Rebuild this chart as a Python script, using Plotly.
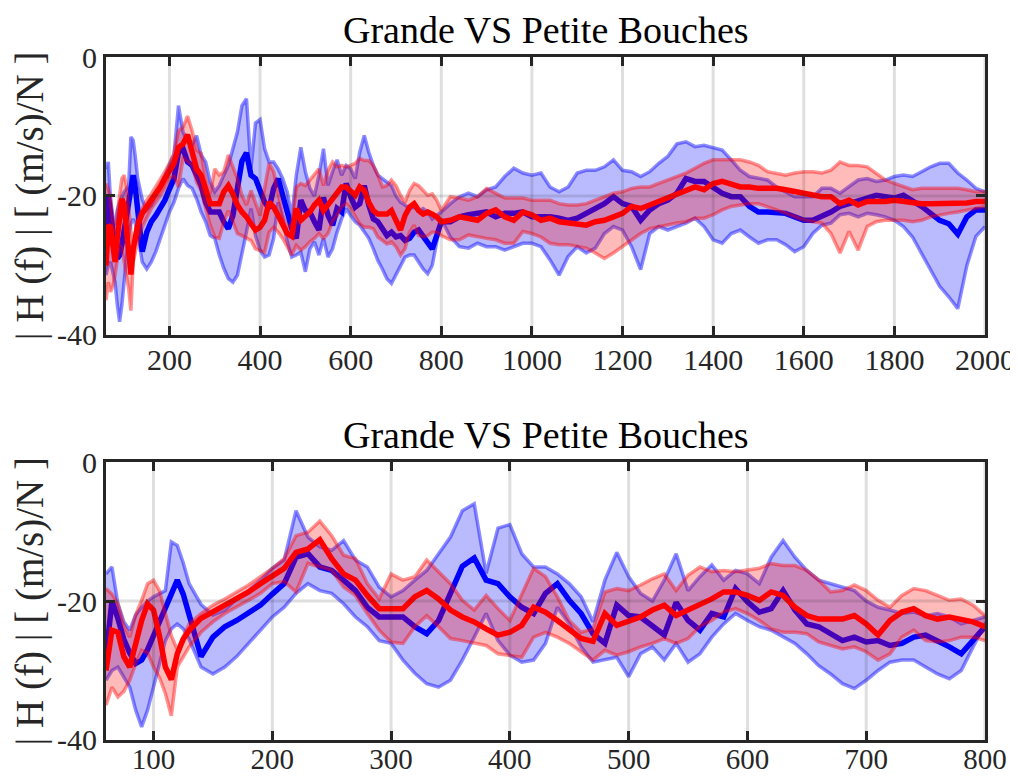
import plotly.graph_objects as go
from plotly.subplots import make_subplots

# frequency axis (Hz)
freq = ([60, 65, 70, 75, 80, 85, 90, 95, 100, 105, 110, 115, 120, 125, 130]
        + list(range(140, 801, 10)) + list(range(820, 2001, 20)))

# "Grande" bouche (blue): mean, upper and lower envelope, dB
grande_moy = [-28.1, -20.0, -22.5, -25.5, -27.5, -29.0, -28.5, -27.0, -25.0, -22.8, -21.0, -19.0, -17.0, -19.0, -21.8,
              -28.0, -25.2, -23.7, -22.8, -21.8, -20.6, -19.0, -17.5, -13.7, -13.2, -15.1, -15.6, -17.0, -18.5, -20.9, -22.3,
              -22.3, -22.3, -23.7, -24.7, -22.8, -18.9, -15.0, -13.8, -17.0, -17.5, -19.4, -20.9, -21.8, -18.9, -17.5, -19.9,
              -21.8, -24.7, -26.1, -20.6, -22.1, -22.3, -23.7, -24.9, -20.2, -22.8, -24.2, -21.8, -22.3, -18.2, -20.1, -21.6,
              -21.1, -18.5, -21.3, -23.3, -23.7, -24.7, -25.7, -25.2, -25.9, -25.7, -26.4, -26.1, -25.2, -24.9, -25.7, -26.6,
              -27.6, -25.7, -23.7,
              -23.7, -23.0, -22.7, -22.5, -22.3, -23.0, -22.5, -22.5, -22.3, -23.0, -23.0, -23.0, -23.2, -23.5, -23.2, -22.5,
              -22.0, -21.1, -20.1, -21.1, -21.5, -23.5, -22.0, -21.1, -20.6, -19.6, -17.5, -17.9, -17.9, -18.7, -19.6, -20.1,
              -20.1, -21.5, -22.3, -22.3, -22.5, -22.5, -23.0, -23.5, -23.5, -23.0, -22.3, -21.5, -21.1, -20.8, -20.3, -19.9,
              -20.1, -20.3, -19.9, -20.6, -21.5, -22.5, -23.5, -24.0, -25.5, -23.0, -22.0, -22.0]
grande_max = [-16.1, -15.1, -20.4, -23.0, -24.2, -22.0, -20.9, -20.0, -19.4, -19.0, -18.5, -11.5, -12.0, -14.5, -17.5,
              -20.5, -22.0, -21.3, -19.7, -18.5, -17.0, -15.3, -14.1, -7.0, -10.8, -12.2, -12.7, -11.3, -14.1, -15.1, -18.0,
              -19.4, -18.5, -17.0, -15.6, -13.2, -10.8, -7.0, -6.0, -16.0, -9.5, -9.0, -13.2, -15.1, -15.1, -16.1, -17.5,
              -19.4, -23.0, -17.0, -13.0, -16.5, -18.9, -20.0, -17.0, -13.2, -18.5, -16.5, -14.8, -17.0, -15.6, -16.1, -17.5,
              -13.7, -11.3, -13.7, -15.6, -17.0, -17.5, -18.0, -18.5, -20.0, -20.9, -21.3, -21.8, -21.6, -22.1, -21.8, -22.3,
              -23.3, -22.8, -22.3,
              -21.1, -20.1, -19.6, -20.1, -19.1, -18.7, -17.2, -16.0, -16.7, -17.0, -16.7, -18.7, -19.4, -18.7, -16.7, -16.3,
              -16.3, -15.8, -14.8, -16.3, -16.5, -17.2, -16.5, -15.3, -14.3, -12.5, -12.2, -12.9, -12.7, -13.1, -13.4, -14.8,
              -16.3, -17.2, -17.5, -17.7, -18.7, -19.4, -20.1, -20.1, -20.1, -18.9, -18.9, -19.6, -18.7, -17.7, -17.5, -17.9,
              -17.7, -17.2, -17.0, -17.2, -16.5, -15.8, -15.3, -15.3, -16.7, -17.7, -18.9, -19.4]
grande_min = [-31.4, -30.0, -29.5, -31.0, -32.4, -35.7, -38.1, -35.7, -32.4, -29.0, -25.7, -24.0, -23.3, -24.0, -25.5,
              -29.5, -30.5, -29.5, -28.0, -26.1, -24.2, -22.3, -20.9, -18.9, -17.5, -18.5, -18.9, -20.4, -22.3, -23.7, -25.7,
              -26.1, -28.5, -30.4, -31.9, -32.4, -31.4, -28.5, -25.2, -21.8, -25.7, -27.8, -28.8, -28.5, -26.1, -20.9, -23.3,
              -26.6, -28.8, -28.5, -28.1, -30.9, -27.6, -26.6, -28.5, -26.1, -28.8, -27.6, -25.2, -23.3, -21.8, -22.8, -23.7,
              -24.2, -25.2, -26.1, -27.6, -29.3, -30.5, -31.9, -32.6, -31.4, -30.0, -28.8, -28.5, -28.5, -29.5, -30.5, -31.2,
              -30.0, -26.6, -23.3,
              -25.9, -27.3, -27.5, -26.8, -27.3, -27.3, -27.8, -27.3, -26.8, -26.8, -27.3, -29.2, -31.4, -28.7, -27.3, -28.2,
              -27.5, -25.4, -24.4, -24.9, -27.3, -30.6, -25.4, -24.4, -24.9, -24.4, -23.9, -23.2, -24.4, -26.3, -26.8, -25.4,
              -24.9, -25.9, -26.8, -26.3, -26.3, -27.0, -28.0, -27.3, -25.4, -24.2, -23.9, -22.7, -22.5, -23.0, -22.5, -22.7,
              -23.0, -23.5, -24.4, -25.9, -28.2, -30.6, -33.0, -34.5, -36.2, -30.0, -25.8, -24.4]

# "Petite" bouche (red): mean, upper and lower envelope, dB
petite_moy = [-30.0, -24.2, -24.5, -28.0, -29.5, -26.0, -22.8, -20.4, -21.3, -25.0, -29.5, -31.3, -27.6, -25.5, -24.2,
              -22.5, -21.6, -20.6, -19.7, -18.7, -17.5, -16.3, -15.3, -13.0, -12.5, -11.2, -13.9, -16.1, -17.0, -19.2, -21.1,
              -21.1, -21.1, -19.4, -18.5, -19.7, -21.3, -22.3, -23.0, -24.0, -24.9, -24.5, -23.5, -20.9, -21.6, -22.8, -24.0,
              -25.4, -25.8, -21.8, -23.5, -23.0, -22.3, -21.3, -20.6, -22.1, -21.3, -20.6, -19.7, -18.7, -18.7, -19.2, -19.9,
              -18.7, -19.2, -20.9, -22.1, -22.6, -22.6, -22.6, -22.1, -23.3, -24.9, -22.8, -21.6, -21.1, -22.1, -22.6, -22.3,
              -22.6, -23.0, -23.7,
              -23.5, -23.0, -23.2, -23.5, -22.5, -22.0, -23.0, -23.5, -22.3, -22.7, -23.5, -23.2, -23.7, -23.9, -24.2, -24.2,
              -23.7, -23.5, -23.0, -22.5, -21.5, -21.8, -21.3, -20.8, -20.3, -19.9, -19.4, -18.7, -19.1, -18.2, -17.9, -18.2,
              -18.7, -18.7, -18.9, -18.9, -18.9, -19.1, -19.4, -19.6, -19.9, -20.1, -20.1, -21.1, -20.6, -21.3, -20.8, -20.8,
              -20.8, -20.6, -20.8, -21.1, -21.1, -21.1, -21.1, -21.1, -21.1, -21.0, -20.8, -20.8]
petite_max = [-18.2, -19.0, -20.4, -23.5, -25.2, -22.0, -19.9, -17.5, -17.0, -18.5, -21.8, -25.0, -27.0, -25.0, -23.3,
              -21.8, -20.6, -19.7, -18.7, -17.7, -16.5, -15.3, -13.9, -10.6, -10.1, -8.5, -10.6, -13.4, -13.9, -17.5, -19.7,
              -16.1, -17.0, -16.5, -14.1, -15.8, -17.5, -19.9, -21.3, -19.2, -21.1, -22.8, -18.9, -15.3, -16.5, -19.4, -22.8,
              -24.5, -24.0, -18.7, -18.2, -18.5, -17.7, -16.8, -16.1, -18.5, -16.3, -15.1, -15.8, -15.6, -15.8, -15.6, -15.3,
              -14.6, -14.9, -14.9, -15.6, -17.0, -18.7, -18.5, -17.7, -18.5, -19.9, -20.9, -19.2, -18.2, -18.5, -19.2, -19.9,
              -19.7, -20.6, -22.1,
              -20.1, -20.3, -20.6, -20.1, -18.9, -19.6, -20.3, -20.3, -20.3, -20.6, -20.6, -20.6, -21.1, -21.3, -21.3, -21.1,
              -20.6, -20.1, -19.6, -19.4, -18.9, -18.7, -18.7, -18.2, -17.7, -17.2, -16.7, -16.0, -15.3, -14.8, -14.8, -14.8,
              -14.8, -15.1, -15.6, -16.5, -16.7, -17.0, -16.7, -16.5, -16.5, -16.7, -16.3, -15.1, -15.6, -15.6, -15.8, -16.7,
              -17.7, -18.2, -18.7, -19.1, -18.9, -18.9, -18.9, -18.9, -18.9, -19.1, -19.4, -19.4]
petite_min = [-35.0, -32.4, -33.8, -33.0, -31.4, -29.0, -27.1, -27.5, -29.5, -31.0, -33.3, -36.5, -29.5, -28.0, -26.6,
              -24.5, -23.0, -21.8, -20.9, -19.9, -18.9, -17.5, -17.2, -18.7, -14.6, -15.1, -15.6, -18.0, -19.2, -21.8, -24.2,
              -25.9, -26.1, -23.7, -22.1, -23.7, -25.4, -25.7, -26.1, -26.4, -27.6, -27.8, -28.1, -25.2, -24.5, -25.2, -26.1,
              -27.3, -28.5, -27.1, -27.8, -27.3, -26.6, -26.1, -25.4, -26.1, -25.4, -23.7, -22.8, -21.6, -21.1, -21.8, -22.8,
              -24.0, -24.5, -24.5, -24.7, -25.9, -26.4, -26.9, -26.6, -27.3, -28.5, -27.6, -25.2, -24.2, -25.7, -25.9, -25.7,
              -25.2, -25.2, -25.7,
              -26.3, -26.3, -25.6, -25.9, -26.1, -26.3, -26.8, -26.8, -25.1, -25.4, -25.9, -26.8, -27.0, -27.0, -27.3, -27.5,
              -28.2, -29.0, -28.2, -27.3, -26.3, -25.4, -24.7, -24.4, -24.2, -23.9, -23.7, -23.2, -23.2, -22.7, -22.0, -21.5,
              -21.3, -21.1, -21.1, -21.5, -22.0, -22.5, -23.0, -23.5, -23.7, -23.9, -25.4, -28.2, -25.1, -27.8, -24.4, -23.7,
              -23.5, -23.5, -23.5, -23.7, -23.5, -23.0, -22.7, -22.5, -22.3, -22.0, -21.8, -21.5]

y_ticks = [-40, -20, 0]
y_ticklabels = ["-40", "-20", "0"]
x_ticks_top = [200, 400, 600, 800, 1000, 1200, 1400, 1600, 1800, 2000]
x_ticks_bot = [100, 200, 300, 400, 500, 600, 700, 800]

titre = "Grande VS Petite Bouches"
ylabel = "| H (f) | [ (m/s)/N ]"

FONT = "Liberation Serif"
INK = "#262626"

fig = make_subplots(rows=2, cols=1, vertical_spacing=0.186)

for row in (1, 2):
    # blue band
    fig.add_trace(go.Scatter(x=freq, y=grande_max, mode="lines",
                             line=dict(color="rgba(0,0,255,0.45)", width=3.5)), row=row, col=1)
    fig.add_trace(go.Scatter(x=freq, y=grande_min, mode="lines", fill="tonexty",
                             fillcolor="rgba(0,0,255,0.27)",
                             line=dict(color="rgba(0,0,255,0.45)", width=3.5)), row=row, col=1)
    fig.add_trace(go.Scatter(x=freq, y=grande_moy, mode="lines",
                             line=dict(color="#0000ff", width=5.5)), row=row, col=1)
    # red band
    fig.add_trace(go.Scatter(x=freq, y=petite_max, mode="lines",
                             line=dict(color="rgba(255,0,0,0.42)", width=3.5)), row=row, col=1)
    fig.add_trace(go.Scatter(x=freq, y=petite_min, mode="lines", fill="tonexty",
                             fillcolor="rgba(255,0,0,0.27)",
                             line=dict(color="rgba(255,0,0,0.42)", width=3.5)), row=row, col=1)
    fig.add_trace(go.Scatter(x=freq, y=petite_moy, mode="lines",
                             line=dict(color="#ff0000", width=5.5)), row=row, col=1)

axis_style = dict(showline=True, linewidth=3, linecolor=INK, mirror="ticks",
                  ticks="inside", ticklen=9, tickwidth=3, tickcolor=INK,
                  showgrid=False, zeroline=False, automargin=False,
                  tickfont=dict(family=FONT, size=30, color=INK))

fig.update_xaxes(**axis_style)
fig.update_yaxes(**axis_style)
fig.update_xaxes(range=[60, 2000], tickvals=x_ticks_top, ticklabelstandoff=-4, row=1, col=1)
fig.update_xaxes(range=[60, 800], tickvals=x_ticks_bot, ticklabelstandoff=-9,
                 tickfont_size=29, row=2, col=1)
fig.update_yaxes(range=[-40, 0], tickvals=y_ticks, ticktext=y_ticklabels)

# grid lines drawn over the data, like the original
grid = dict(color="rgba(38,38,38,0.15)", width=3)
shapes = []
for xr, yr, ticks in (("x", "y", x_ticks_top), ("x2", "y2", x_ticks_bot)):
    for t in ticks:
        shapes.append(dict(type="line", xref=xr, yref=yr + " domain", x0=t, x1=t, y0=0, y1=1,
                           line=grid, layer="above"))
    shapes.append(dict(type="line", xref=xr + " domain", yref=yr, x0=0, x1=1, y0=-20, y1=-20,
                       line=grid, layer="above"))

annotations = []
for ytitle, ylab in ((1.0395, 0.797), (0.4466, 0.2035)):
    annotations.append(dict(text=titre, xref="paper", yref="paper", x=0.5, y=ytitle,
                            xanchor="center", yanchor="middle", showarrow=False,
                            font=dict(family=FONT, size=38, color="black")))
    annotations.append(dict(text=ylabel, xref="paper", yref="paper", x=-0.087, y=ylab,
                            xanchor="center", yanchor="middle", textangle=-90, showarrow=False,
                            font=dict(family=FONT, size=39, color=INK)))

# the page body adds an 8 px margin, so the figure is 8 px smaller on each side
fig.update_layout(width=1010, height=768, showlegend=False,
                  paper_bgcolor="white", plot_bgcolor="white",
                  margin=dict(l=98, r=33, t=49, b=36),
                  shapes=shapes, annotations=annotations)

fig.write_html("out.html")
